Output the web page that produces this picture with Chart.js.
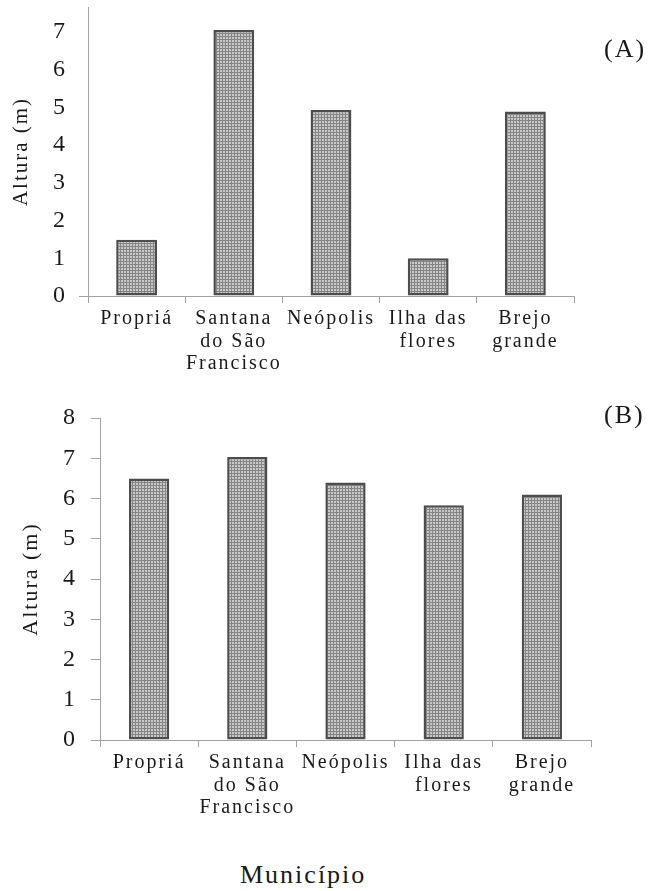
<!DOCTYPE html>
<html>
<head>
<meta charset="utf-8">
<script src="https://cdn.jsdelivr.net/npm/chart.js@4/dist/chart.umd.min.js"></script>
<style>
  html, body { margin: 0; padding: 0; background: #fff; }
  body { width: 650px; height: 891px; position: relative; overflow: hidden; font-family: "Liberation Serif", "Times New Roman", Times, serif; color: #1a1a1a; }
  .panel { position: absolute; left: 0; }
  .tag { position: absolute; font-size: 26px; letter-spacing: 2px; line-height: 1; }
  #xlabel { position: absolute; left: 240px; top: 862px; font-size: 26px; letter-spacing: 2px; line-height: 1; }
</style>
</head>
<body>
<canvas id="chartA" class="panel" width="650" height="378" style="top:0px"></canvas>
<canvas id="chartB" class="panel" width="650" height="450" style="top:380px"></canvas>
<div class="tag" style="left:604px; top:36px;">(A)</div>
<div class="tag" style="left:604px; top:402px;">(B)</div>
<div id="xlabel">Município</div>

<script>
// Municipalities along the lower São Francisco river
const municipios = [
  ['Propriá'],
  ['Santana', 'do São', 'Francisco'],
  ['Neópolis'],
  ['Ilha das', 'flores'],
  ['Brejo', 'grande']
];

// Mean height (m) per municipality, panel A and panel B
const alturaA = [1.49, 7.05, 4.93, 1.0, 4.89];
const alturaB = [6.5, 7.03, 6.4, 5.83, 6.1];

// Value-axis tick labels of each panel
const ticksA = [0, 1, 2, 3, 4, 5, 6, 7];
const ticksB = [0, 1, 2, 3, 4, 5, 6, 7, 8];

const yTitle = 'Altura (m)';
const SERIF = "'Liberation Serif', 'Times New Roman', Times, serif";
const AXIS_GRAY = '#a3a3a3';
const TEXT = '#1a1a1a';

// Stippled fill used by the bars
function stipple() {
  const c = document.createElement('canvas');
  c.width = 3; c.height = 3;
  const g = c.getContext('2d');
  g.fillStyle = '#858585';
  g.fillRect(0, 0, 3, 3);
  g.fillStyle = '#c8c8c8';
  g.fillRect(1, 1, 2, 2);
  return g.createPattern(c, 'repeat');
}

// Wider letter spacing for the serif axis text
const spacing = {
  id: 'spacing',
  beforeUpdate(chart) { chart.ctx.letterSpacing = '2px'; },
  beforeLayout(chart) { chart.ctx.letterSpacing = '2px'; },
  beforeDraw(chart) { chart.ctx.letterSpacing = '2px'; }
};

function makeChart(id, values, tickValues, opts) {
  const ctx = document.getElementById(id).getContext('2d');
  return new Chart(ctx, {
    type: 'bar',
    data: {
      labels: municipios,
      datasets: [{
        data: values,
        backgroundColor: stipple(),
        borderColor: '#4d4d4d',
        borderWidth: 2.5,
        borderSkipped: false,
        categoryPercentage: 1,
        barPercentage: opts.barPct
      }]
    },
    options: {
      responsive: false,
      animation: false,
      devicePixelRatio: 1,
      layout: { padding: opts.padding },
      plugins: { legend: { display: false }, tooltip: { enabled: false } },
      scales: {
        x: {
          offset: true,
          border: { color: AXIS_GRAY, width: 1 },
          grid: {
            offset: true,
            drawOnChartArea: false,
            drawTicks: true,
            tickLength: 7,
            color: AXIS_GRAY
          },
          ticks: {
            color: TEXT,
            autoSkip: false,
            maxRotation: 0,
            padding: 5,
            font: { family: SERIF, size: 20, lineHeight: 1.12 }
          },
          afterFit(s) { s.height = opts.xHeight; }
        },
        y: {
          min: 0,
          max: opts.yMax,
          border: { color: AXIS_GRAY, width: 1 },
          grid: {
            drawOnChartArea: false,
            drawTicks: true,
            tickLength: 9,
            color: opts.tickColor
          },
          ticks: {
            color: TEXT,
            padding: opts.tickPad,
            font: { family: SERIF, size: 24 }
          },
          afterBuildTicks(s) { s.ticks = tickValues.map(v => ({ value: v })); },
          title: {
            display: true,
            text: yTitle,
            color: TEXT,
            font: { family: SERIF, size: opts.titleSize },
            padding: { top: opts.titlePad, bottom: 0 }
          },
          afterFit(s) {
            s.width = opts.yWidth;
            s.paddingTop = 0;
            s.paddingBottom = 0;
          }
        }
      }
    },
    plugins: [spacing]
  });
}

// Panel A: only the zero tick is marked on the value axis
makeChart('chartA', alturaA, ticksA, {
  barPct: 0.42,
  padding: { left: 0, top: 7, right: 76, bottom: 0 },
  xHeight: 82,
  yMax: 7.66,
  yWidth: 88,
  tickPad: 12,
  tickColor: c => (c.tick && c.tick.value === 0 ? AXIS_GRAY : 'rgba(0,0,0,0)'),
  titleSize: 21,
  titlePad: 9
});

// Panel B
makeChart('chartB', alturaB, ticksB, {
  barPct: 0.41,
  padding: { left: 0, top: 38, right: 59, bottom: 0 },
  xHeight: 90,
  yMax: 8,
  yWidth: 100,
  tickPad: 14,
  tickColor: AXIS_GRAY,
  titleSize: 22,
  titlePad: 18
});
</script>
</body>
</html>
